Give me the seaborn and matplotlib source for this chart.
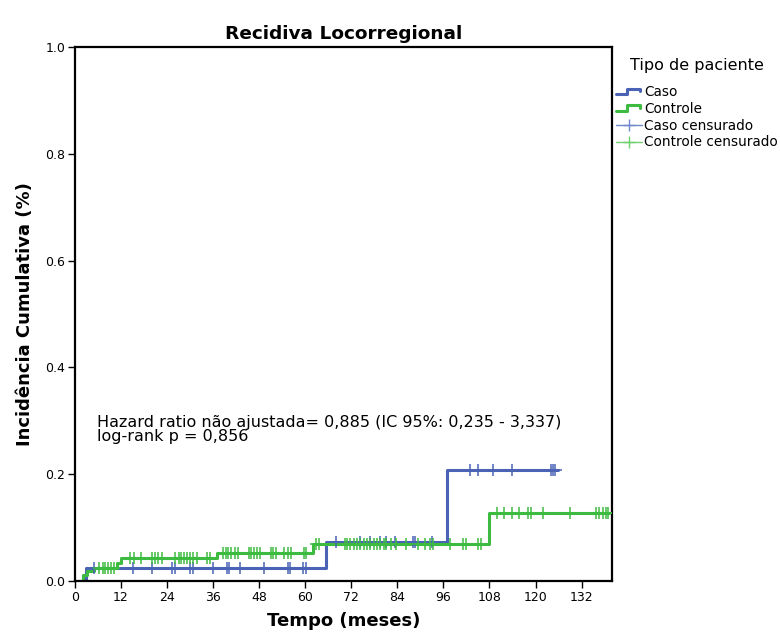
import numpy as np
import pandas as pd
import matplotlib
matplotlib.use('Agg')
from matplotlib import pyplot as plt
from matplotlib.lines import Line2D
from matplotlib.legend_handler import HandlerBase
import seaborn as sns

# step points of the cumulative incidence curves (months, proportion)
caso_tempo = [0.0, 3.0, 65.5, 97.0, 125.8]
caso_inc = [0.0, 0.024, 0.072, 0.207, 0.207]
controle_tempo = [0.0, 2.0, 3.2, 5.0, 11.0, 12.0, 37.0, 62.0, 108.0, 139.2]
controle_inc = [0.0, 0.011, 0.019, 0.024, 0.033, 0.042, 0.052, 0.069, 0.127, 0.127]

# censored observations (months)
caso_cens = [5.1, 15.2, 20.2, 25.2, 26.0, 29.9, 30.8, 36.0, 39.5, 40.2, 42.9,
             49.2, 55.5, 56.1, 59.4, 60.1, 68.1, 74.2, 77.0, 79.4, 81.1, 83.3,
             88.0, 88.7, 93.1, 103.0, 104.9, 108.8, 114.0, 124.0, 124.6, 125.2]
controle_cens = [6.2, 7.2, 7.9, 8.6, 9.4, 10.3,
                 14.4, 15.3, 17.3, 20.0, 20.9, 21.6, 22.6, 26.1, 27.0, 27.7,
                 28.5, 29.3, 30.1, 30.9, 31.7, 34.4, 35.1,
                 38.6, 39.3, 40.0, 40.8, 41.6, 42.5, 45.4, 46.0, 46.7, 47.4,
                 48.1, 51.0, 51.6, 52.5, 54.6, 55.5, 56.4, 59.8, 60.3,
                 62.9, 63.6, 70.3, 71.0, 71.7, 72.6, 73.4, 74.3, 75.2, 76.0,
                 76.9, 77.8, 78.6, 79.5, 80.4, 81.1, 82.4, 83.7, 86.3, 89.3,
                 91.1, 92.4, 93.2, 97.6, 101.0, 101.9, 104.9, 105.8,
                 109.9, 111.9, 113.9, 115.8, 118.0, 118.8, 122.0, 129.0,
                 135.7, 136.6, 137.5, 138.3, 139.0]

grupos = ['Caso', 'Controle']
x_ticks = list(range(0, 133, 12))
y_ticks = [0.0, 0.2, 0.4, 0.6, 0.8, 1.0]

blue = '#4a63b5'
green = '#3dbb40'
blue_light = '#7088cc'
green_light = '#6fd06f'


def step_value(t, tempo, inc):
  idx = np.searchsorted(tempo, t, side='right') - 1
  return np.array(inc)[idx]


steps = pd.concat([
    pd.DataFrame({'tempo': caso_tempo, 'inc': caso_inc, 'grupo': 'Caso'}),
    pd.DataFrame({'tempo': controle_tempo, 'inc': controle_inc,
                  'grupo': 'Controle'}),
])
cens = pd.concat([
    pd.DataFrame({'tempo': caso_cens,
                  'inc': step_value(caso_cens, caso_tempo, caso_inc),
                  'grupo': 'Caso'}),
    pd.DataFrame({'tempo': controle_cens,
                  'inc': step_value(controle_cens, controle_tempo, controle_inc),
                  'grupo': 'Controle'}),
])


class StepHandler(HandlerBase):
  def create_artists(self, legend, orig_handle, xdescent, ydescent, width,
                     height, fontsize, trans):
    x = np.array([0.0, 0.45, 0.45, 0.92, 0.92]) * width - xdescent
    y = np.array([0.2, 0.2, 0.8, 0.8, 0.5]) * height - ydescent
    line = Line2D(x, y, color=orig_handle.get_color(),
                  linewidth=orig_handle.get_linewidth(), transform=trans)
    return [line]


sns.set_style('ticks')
plt.rcParams['text.color'] = 'black'
plt.rcParams['axes.labelcolor'] = 'black'
fig = plt.figure(figsize=(7.8, 6.39), dpi=100)
ax = fig.add_axes([0.096, 0.091, 0.689, 0.835])

sns.lineplot(data=steps, x='tempo', y='inc', hue='grupo', hue_order=grupos,
             palette=[blue, green], drawstyle='steps-post', estimator=None,
             sort=False, linewidth=2.2, legend=False, ax=ax)
sns.scatterplot(data=cens, x='tempo', y='inc', hue='grupo', hue_order=grupos,
                palette=[blue, green], marker='+', s=75, linewidth=1.1,
                legend=False, ax=ax, zorder=3)

ax.set_xlim(0, 140)
ax.set_ylim(0, 1.0)
ax.set_xticks(x_ticks)
ax.set_yticks(y_ticks)
ax.set_yticklabels(['{:.1f}'.format(v) for v in y_ticks])
ax.tick_params(labelsize=9, length=5, width=1, colors='black', pad=2)
for s in ax.spines.values():
  s.set_visible(True)
  s.set_linewidth(1.6)
  s.set_color('black')

ax.set_title('Recidiva Locorregional', fontweight='bold', fontsize=13.3, pad=6)
ax.set_xlabel('Tempo (meses)', fontweight='bold', fontsize=13, labelpad=6)
ax.set_ylabel('Incidência Cumulativa (%)', fontweight='bold', fontsize=13,
              labelpad=8)

ax.text(5.7, 0.310,
        'Hazard ratio não ajustada= 0,885 (IC 95%: 0,235 - 3,337)\n'
        'log-rank p = 0,856',
        fontsize=11.5, va='top', ha='left', linespacing=0.88)

handles = [
    Line2D([], [], color=blue, linewidth=2.2),
    Line2D([], [], color=green, linewidth=2.2),
    Line2D([], [], color=blue_light, linewidth=1.0, marker='+',
           markersize=9),
    Line2D([], [], color=green_light, linewidth=1.0, marker='+',
           markersize=9),
]
labels = ['Caso', 'Controle', 'Caso censurado', 'Controle censurado']
leg = fig.legend(handles, labels, title='Tipo de paciente',
                 loc='upper left', bbox_to_anchor=(0.786, 0.914),
                 frameon=False, fontsize=9.8, title_fontsize=11.5,
                 handlelength=1.9, handletextpad=0.2, labelspacing=0.2,
                 borderaxespad=0, borderpad=0.2,
                 handler_map={handles[0]: StepHandler(),
                              handles[1]: StepHandler()})
leg._legend_box.sep = 9

fig.savefig('out.png', dpi=100)
